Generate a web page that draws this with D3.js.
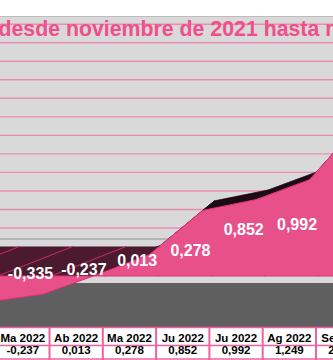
<!DOCTYPE html>
<html><head><meta charset="utf-8">
<script src="https://cdn.jsdelivr.net/npm/d3@7"></script>
<style>html,body{margin:0;padding:0;background:#fff;overflow:hidden}svg{display:block}</style>
</head><body>
<svg id="c" width="333" height="360"></svg>
<script>
// ---- data ----
const categories = ["Fe 2022","Ma 2022","Ab 2022","Ma 2022","Ju 2022","Ju 2022","Ag 2022","Se 2022"];
const values = [-0.335,-0.237,0.013,0.278,0.852,0.992,1.249,2.02];
const gridTicks = [0.25,0.5,0.75,1,1.25,1.5,1.75,2,2.25,2.5,2.75,3];
const titleText = "desde noviembre de 2021 hasta noviembre de 2022";

// ---- setup ----
const W = 333, H = 360;
const svg = d3.select("#c");
const n = categories.length;
const loc = d3.formatLocale({decimal:",",thousands:".",grouping:[3],currency:["","€"],minus:"-"});
const fmt = loc.format(".3f");

const PINK = "#e8508a", MAROON = "#4b1b2d", DARK = "#1c0b12";
const FONT = "'Liberation Sans', Arial, sans-serif";

// category band scale (table columns)
const xBand = d3.scaleBand().domain(d3.range(n)).range([-57.1, 369.3]).padding(0);
const cx = i => xBand(i) + xBand.bandwidth()/2;
// projection planes (pseudo-3D)
const yFront = d3.scaleLinear().domain([0,1]).range([276, 199]);
const yBack  = d3.scaleLinear().domain([0,1]).range([246.5, 172.4]);
const yLabel = d3.scaleLinear().domain([0,1]).range([266.4, 229.7]);
const FRONT_DX = 20, TOP_DX = 12, TOP_DY = 9.6, PF_DX = -25, PB_DX = 50, LABEL_DX = 61;

const plotTop = 16, tableTop = 327;

// background
svg.append("rect").attr("x",0).attr("y",0).attr("width",W).attr("height",H).attr("fill","#fff");
svg.append("rect").attr("x",0).attr("y",plotTop).attr("width",W).attr("height",tableTop-plotTop).attr("fill","#d9d9d9");
svg.append("line").attr("x1",0).attr("x2",W).attr("y1",plotTop+0.5).attr("y2",plotTop+0.5).attr("stroke","#bcbcbc").attr("stroke-width",1);

// gridlines on back wall
svg.append("g").selectAll("line").data(gridTicks).join("line")
  .attr("x1",0).attr("x2",W)
  .attr("y1",d=>yBack(d)).attr("y2",d=>yBack(d))
  .attr("stroke","#e98db0").attr("stroke-width",1.4);

// wall base line
svg.append("line").attr("x1",0).attr("x2",W)
  .attr("y1",yBack(0)-7.5).attr("y2",yBack(0)-7.5)
  .attr("stroke","#a9a9a9").attr("stroke-width",1.6);

// floor
const floorTop = yFront(0)+7;
svg.append("rect").attr("x",0).attr("y",floorTop).attr("width",W).attr("height",tableTop-floorTop).attr("fill","#5f5f5f");

// top faces of series (visible sliver where rising gently)
const idx = d3.range(n-1).filter(i => values[i] >= 0 && values[i+1] >= 0);
svg.append("g").selectAll("path").data(idx).join("path")
  .attr("d", i => {
    const a=[cx(i)+FRONT_DX, yFront(values[i])], b=[cx(i+1)+FRONT_DX, yFront(values[i+1])];
    return "M"+[a, b, [b[0]+TOP_DX,b[1]-TOP_DY], [a[0]+TOP_DX,a[1]-TOP_DY]].map(p=>p.join(",")).join("L")+"Z";
  })
  .attr("fill",DARK).attr("stroke",DARK).attr("stroke-width",0.8);

// zero plane (top of negative part)
const xr = cx(n-1);
svg.append("path")
  .attr("d","M"+[[-120,yFront(0)],[xr+PF_DX,yFront(0)],[xr+PB_DX,yBack(0)],[-120,yBack(0)]].map(p=>p.join(",")).join("L")+"Z")
  .attr("fill",MAROON);
// segment edges on the zero plane
svg.append("g").selectAll("line").data(d3.range(n)).join("line")
  .attr("x1",i=>cx(i)+PF_DX).attr("y1",yFront(0))
  .attr("x2",i=>cx(i)+PB_DX).attr("y2",yBack(0))
  .attr("stroke","#c92a69").attr("stroke-width",1);

// front face
const area = d3.area()
  .x(i => cx(i)+FRONT_DX)
  .y0(() => yFront(0))
  .y1(i => yFront(values[i]));
svg.append("path").attr("d", area(d3.range(n)))
  .attr("fill",PINK).attr("stroke","#e02f76").attr("stroke-width",1);

// data labels (only those that fit inside the visible plot, as in the reference)
const lbl = svg.append("g").selectAll("text").data(d3.range(n)).join("text")
  .attr("x",i=>cx(i)+LABEL_DX).attr("y",i=>yLabel(values[i]))
  .attr("text-anchor","middle").attr("fill","#fff")
  .attr("font-family",FONT).attr("font-weight","bold").attr("font-size",16)
  .text(i=>fmt(values[i]));
lbl.each(function(i){
  const len = this.getComputedTextLength();
  const x = cx(i)+LABEL_DX;
  if (x + len/2 > W || x - len/2 < -len) d3.select(this).remove();
});

// title
svg.append("text").attr("x",-1.5).attr("y",35.7)
  .attr("font-family",FONT).attr("font-weight","bold").attr("font-size",21.3)
  .attr("fill","#f04f8c").text(titleText);

// data table
const tb = svg.append("g");
tb.append("rect").attr("x",0).attr("y",tableTop).attr("width",W).attr("height",H-tableTop).attr("fill","#fff");
const rowMid = 345.5, rowBot = 359;
const TBL = "#f0609f";
[tableTop+0.5, rowMid, rowBot].forEach(y =>
  tb.append("line").attr("x1",0).attr("x2",W).attr("y1",y).attr("y2",y).attr("stroke",TBL).attr("stroke-width",1.5));
tb.selectAll("line.v").data(d3.range(n+1)).join("line").attr("class","v")
  .attr("x1",i=>xBand(i) ?? xBand.range()[1]).attr("x2",i=>xBand(i) ?? xBand.range()[1])
  .attr("y1",tableTop).attr("y2",H)
  .attr("stroke",TBL).attr("stroke-width",2);
tb.selectAll("text.c").data(d3.range(n)).join("text").attr("class","c")
  .attr("x",cx).attr("y",341.7).attr("text-anchor","middle")
  .attr("font-family",FONT).attr("font-weight","bold").attr("font-size",11.5).attr("fill","#000")
  .text(i=>categories[i]);
tb.selectAll("text.v").data(d3.range(n)).join("text").attr("class","v")
  .attr("x",cx).attr("y",354.3).attr("text-anchor","middle")
  .attr("font-family",FONT).attr("font-weight","bold").attr("font-size",11.5).attr("fill","#000")
  .text(i=>fmt(values[i]));
</script>
</body></html>
